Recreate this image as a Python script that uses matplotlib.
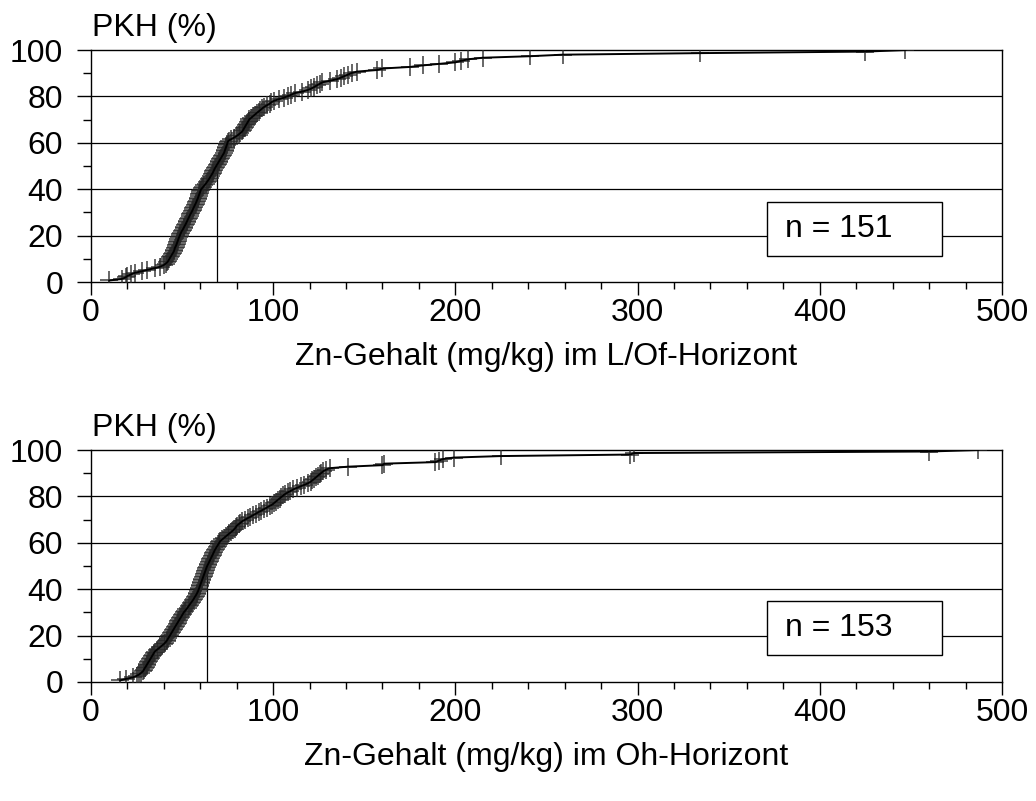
import numpy as np
import matplotlib
matplotlib.use("Agg")
from matplotlib import pyplot as plt
from matplotlib.patches import Rectangle

plt.rcParams['font.family'] = ['Liberation Sans', 'DejaVu Sans']

# sorted Zn contents (mg/kg), L/Of horizon, n = 151
zn_lof = [
    10, 17, 19, 20, 22, 24, 28, 31, 35, 38,
    40, 41, 42, 42.5, 43, 43.5, 44, 44.5, 45, 45.5,
    45.8, 46, 46.4, 46.8, 47.1, 47.4, 47.7, 48, 48.3, 48.7,
    49, 49.4, 49.8, 50.3, 50.8, 51.2, 51.7, 52.1, 52.5, 52.9,
    53.3, 53.7, 54.1, 54.5, 55, 55.4, 55.8, 56.2, 56.6, 57,
    57.4, 57.8, 58.1, 58.5, 58.8, 59.1, 59.4, 59.7, 60, 60.3,
    60.9, 61.6, 62.3, 63, 63.6, 64.2, 64.8, 65.3, 65.8, 66.3,
    66.8, 67.2, 67.6, 68, 68.5, 69, 69.5, 70, 70.5, 71,
    71.5, 72, 72.5, 73, 73.3, 73.6, 73.9, 74.2, 74.5, 74.8,
    75, 75.5, 77, 78.5, 80, 81, 82, 83, 83.5, 84,
    84.5, 85, 85.5, 86, 86.5, 87, 88, 89, 90, 91,
    92, 93, 94, 95, 96.5, 98, 99, 100.5, 103, 106,
    108, 110, 112, 116, 119, 121, 122.5, 124, 125.5, 127,
    131, 135, 137, 139, 141, 143, 146, 157, 160, 175,
    182, 191, 200, 203, 207, 215, 241, 259, 334, 425,
    447,
]

# sorted Zn contents (mg/kg), Oh horizon, n = 153
zn_oh = [
    16, 19, 23, 25, 26.5, 27.5, 28.5, 29, 29.5, 30,
    30.5, 31, 31.5, 32, 32.5, 33, 33.5, 34, 34.5, 35,
    36, 37, 38, 39, 40, 40.8, 41.5, 42, 42.5, 43,
    43.5, 44, 44.5, 45, 45.5, 46, 46.5, 47, 47.5, 48,
    48.5, 49, 49.5, 50, 50.5, 51, 51.7, 52.4, 53, 53.6,
    54.2, 54.8, 55.4, 56, 56.5, 57, 57.5, 58, 58.4, 58.8,
    59.1, 59.4, 59.7, 60, 60.3, 60.6, 60.9, 61.2, 61.5, 61.8,
    62.1, 62.4, 62.7, 63, 63.3, 63.6, 64, 64.4, 64.8, 65.2,
    65.6, 66, 66.4, 66.8, 67.2, 67.6, 68, 68.5, 69, 69.5,
    70, 70.5, 71, 72, 73, 74, 75, 76, 77, 78,
    78.8, 79.5, 80, 81, 82, 83, 84.5, 86, 87.5, 89,
    90.5, 92, 93.5, 95, 96.5, 98, 99.5, 100.5, 101.5, 102.5,
    103.5, 104.5, 105.5, 106.5, 108, 109.5, 111, 113, 115, 117,
    119, 120.5, 121.5, 122.5, 123.5, 124.5, 125.5, 126.5, 127.5, 129,
    131, 141, 160, 161, 189, 191, 193, 199, 225, 296,
    298, 460, 487,
]

medians = [69.2, 63.7]
horizons = ["L/Of", "Oh"]
x_ticks = [0, 100, 200, 300, 400, 500]
y_ticks = [0, 20, 40, 60, 80, 100]

fs = 23
fig = plt.figure(figsize=(10.36, 8.01), dpi=100)

panels = [
    (zn_lof, 0.6479, medians[0], horizons[0]),
    (zn_oh, 0.1486, medians[1], horizons[1]),
]

for i, (vals, bottom, med, hor) in enumerate(panels):
    ax = fig.add_axes([0.0878, bottom, 0.8794, 0.2896])
    vals = np.array(vals)
    pkh = np.arange(1, len(vals) + 1) / len(vals) * 100

    for y in y_ticks[1:-1]:
        ax.axhline(y, color='black', lw=0.9, zorder=1)
    ax.plot([med, med], [0, 50], color='black', lw=0.9, zorder=2)
    ax.plot(vals, pkh, ls='none', marker='+', ms=13, mew=1.4,
            color='0.15', alpha=0.7, zorder=3)
    ax.plot(vals, pkh, color='black', lw=1.4, zorder=4)

    ax.set_xlim(0, 500)
    ax.set_ylim(0, 100)
    ax.set_xticks(x_ticks)
    ax.set_xticks(np.arange(0, 501, 20), minor=True)
    ax.set_yticks(y_ticks)
    ax.set_yticks(np.arange(10, 100, 20), minor=True)
    ax.tick_params(axis='x', which='major', length=9.5, width=1, pad=2, labelsize=fs)
    ax.tick_params(axis='x', which='minor', length=5, width=1)
    ax.tick_params(axis='y', which='major', length=10, width=1, pad=10, labelsize=fs)
    ax.tick_params(axis='y', which='minor', length=5.5, width=1)
    for s in ax.spines.values():
        s.set_linewidth(1)

    box = Rectangle((371, 11.2 if i == 0 else 11.6), 96, 23.3,
                    facecolor='white', edgecolor='black', lw=1, zorder=5)
    ax.add_patch(box)
    ax.text(381, 22.8 if i == 0 else 23.2, f"n = {len(vals)}", fontsize=fs,
            va='center', ha='left', zorder=6)

    top_px = 50 if i == 0 else 450
    fig.text(92 / 1036, 1 - (top_px - 14) / 801, "PKH (%)", fontsize=fs,
             ha='left', va='baseline')
    fig.text(546.5 / 1036, 1 - (top_px + 307) / 801,
             f"Zn-Gehalt (mg/kg) im {hor}-Horizont", fontsize=fs,
             ha='center', va='center')

plt.savefig("out.png", dpi=100)
